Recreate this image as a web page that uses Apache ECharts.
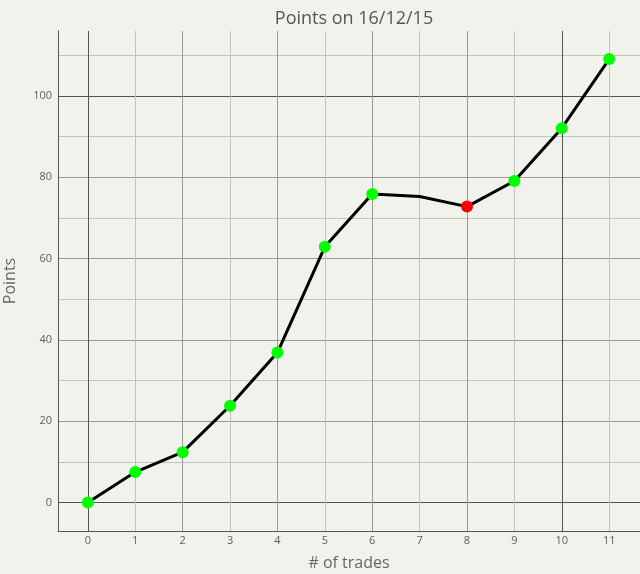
<!DOCTYPE html>
<html>
<head>
<meta charset="utf-8">
<script src="https://cdn.jsdelivr.net/npm/echarts@6/dist/echarts.min.js"></script>
<style>html,body{margin:0;padding:0;background:#f2f2ed;}#c{width:640px;height:574px;}</style>
</head>
<body>
<div id="c"></div>
<script>
const trades = [0, 1, 2, 3, 4, 5, 6, 7, 8, 9, 10, 11];
const points = [0, 7.5, 12.4, 23.8, 36.9, 62.9, 75.9, 75.3, 72.8, 79.1, 92.1, 109.1];
const markerColors = ['#00ff00', '#00ff00', '#00ff00', '#00ff00', '#00ff00', '#00ff00', '#00ff00', null, '#ff0000', '#00ff00', '#00ff00', '#00ff00'];
const titleText = 'Points on 16/12/15';
const xName = '# of trades';
const yName = 'Points';

// tick positions
const xMinorTicks = [0, 1, 2, 3, 4, 5, 6, 7, 8, 9, 10, 11];
const xMidTicks = [0, 2, 4, 6, 8, 10];
const xMajorTicks = [0, 10];
const yMinorTicks = [0, 10, 20, 30, 40, 50, 60, 70, 80, 90, 100, 110];
const yLabelTicks = [0, 20, 40, 60, 80, 100];
const yMajorTicks = [0, 100];

const FONT = 'Open Sans';
const XMIN = -0.63, XMAX = 11.65, YMIN = -7, YMAX = 116;

function gridAxis(min, max, ticks, color) {
  return {
    type: 'value', min: min, max: max,
    axisLine: {show: false},
    axisTick: {show: false, customValues: ticks},
    axisLabel: {show: false, customValues: ticks},
    splitLine: {show: true, showMinLine: true, showMaxLine: true, lineStyle: {color: color, width: 1}}
  };
}

const chart = echarts.init(document.getElementById('c'), null, {renderer: 'canvas'});
chart.setOption({
  backgroundColor: '#f2f2ed',
  animation: false,
  title: {
    text: titleText, left: 349, top: 5, textAlign: 'center',
    textStyle: {fontFamily: FONT, fontSize: 18, fontWeight: 'normal', color: '#555'}
  },
  grid: {left: 58, right: 0, top: 31, bottom: 43, containLabel: false, outerBoundsMode: 'none'},
  xAxis: [
    {
      type: 'value', min: XMIN, max: XMAX,
      name: xName, nameLocation: 'middle', nameGap: 24,
      nameTextStyle: {fontFamily: FONT, fontSize: 16, color: '#666'},
      axisLine: {show: true, onZero: false, lineStyle: {color: '#555', width: 1}},
      axisTick: {show: false, customValues: xMinorTicks},
      axisLabel: {customValues: xMinorTicks, fontFamily: FONT, fontSize: 11, color: '#585d68', margin: 4},
      splitLine: {show: true, showMinLine: true, showMaxLine: true, lineStyle: {color: '#c4c4bf', width: 1}}
    },
    gridAxis(XMIN, XMAX, xMidTicks, '#9a9a96'),
    gridAxis(XMIN, XMAX, xMajorTicks, '#555555')
  ],
  yAxis: [
    {
      type: 'value', min: YMIN, max: YMAX,
      name: yName, nameLocation: 'middle', nameGap: 40,
      nameTextStyle: {fontFamily: FONT, fontSize: 16, color: '#666'},
      axisLine: {show: true, onZero: false, lineStyle: {color: '#555', width: 1}},
      axisTick: {show: false, customValues: yMinorTicks},
      axisLabel: {customValues: yLabelTicks, fontFamily: FONT, fontSize: 11, color: '#585d68', margin: 6},
      splitLine: {show: true, showMinLine: true, showMaxLine: true, lineStyle: {color: '#c4c4bf', width: 1}}
    },
    gridAxis(YMIN, YMAX, yLabelTicks, '#9a9a96'),
    gridAxis(YMIN, YMAX, yMajorTicks, '#555555')
  ],
  series: [{
    type: 'line',
    xAxisIndex: 0, yAxisIndex: 0,
    data: trades.map(function (t, i) {
      const c = markerColors[i];
      return c ? {value: [t, points[i]], itemStyle: {color: c}}
               : {value: [t, points[i]], symbol: 'none', symbolSize: 0};
    }),
    symbol: 'circle', symbolSize: 12,
    lineStyle: {color: '#000', width: 3},
    itemStyle: {color: '#00ff00', borderWidth: 0},
    z: 10
  }]
});
</script>
</body>
</html>
